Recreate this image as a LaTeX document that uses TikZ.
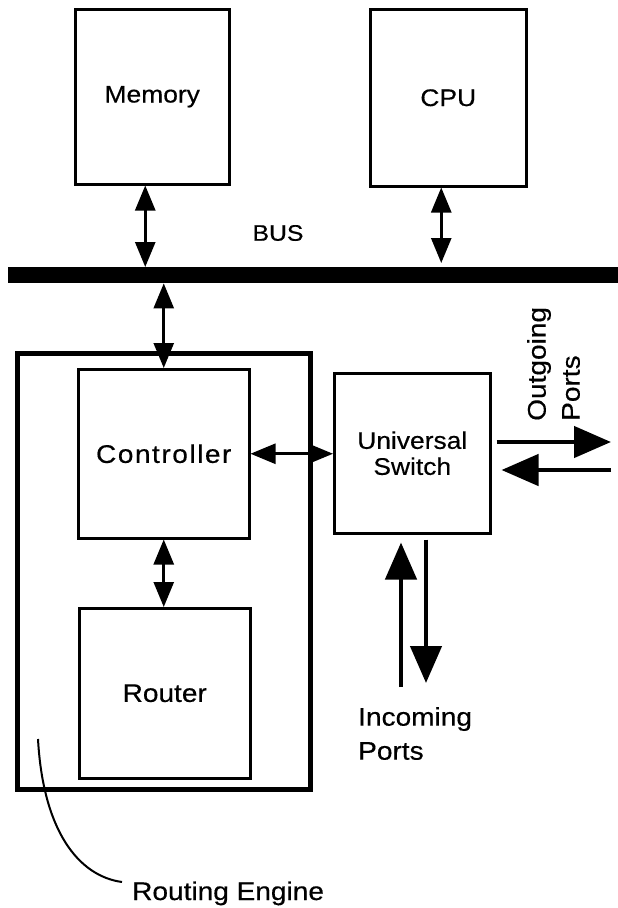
\documentclass[tikz,border=0pt]{standalone}
\usepackage{fontspec}
\setmainfont{Liberation Sans}[FakeStretch=1.1, FakeBold=0.4]
\usetikzlibrary{arrows.meta}
\begin{document}
\begin{tikzpicture}[x=1pt,y=-1pt,
  box/.style={draw, line width=2.5pt, rectangle, inner sep=0pt, anchor=north west},
  lbl/.style={font=\fontsize{24}{26}\selectfont},
  lblb/.style={font=\fontsize{25.5}{34}\selectfont},
  sarrow/.style={line width=2.6pt, {Triangle[length=25pt,width=20pt]}-{Triangle[length=25pt,width=20pt]}},
  barrow/.style={line width=4.5pt, -{Triangle[length=37pt,width=31pt]}},
]
\useasboundingbox (0,0) rectangle (618,908);
\fill[white] (0,0) rectangle (618,908);

% top boxes
\node[box, lbl, minimum width=154pt, minimum height=175pt] (mem) at (74,8) {Memory};
\node[box, lbl, minimum width=156pt, minimum height=177pt] (cpu) at (369,8) {CPU};
\node[font=\fontsize{22.5}{26}\selectfont] (bustxt) at (278,233) {BUS};

% bus
\node[fill=black, inner sep=0pt, minimum width=610pt, minimum height=16pt, anchor=north west] (bus) at (8,267) {};

% routing engine
\node[draw, line width=4.5pt, inner sep=0pt, minimum width=293pt, minimum height=436pt, anchor=north west] (re) at (15,351) {};
\node[box, font=\fontsize{25.5}{30}\selectfont\addfontfeature{LetterSpace=6}, minimum width=171pt, minimum height=169pt] (ctrl) at (77,368) {Controller};
\node[box, lblb, minimum width=171pt, minimum height=170pt] (rout) at (78,607) {Router};

% switch
\node[box, lbl, align=center, minimum width=156pt, minimum height=160pt] (sw) at (333,372) {Universal\\Switch};

% bus connections
\coordinate (ma) at ([xshift=-7pt]mem.south);
\draw[sarrow] (ma) -- (ma |- bus.north);
\coordinate (ca) at ([xshift=-7pt]cpu.south);
\draw[sarrow, shorten >=4pt] (ca) -- (ca |- bus.north);
\draw[sarrow] (bus.south -| ctrl.north) -- (ctrl.north);

% internal connections
\draw[sarrow] (ctrl.south) -- (ctrl.south |- rout.north);
\draw[sarrow] (ctrl.east) -- (ctrl.east -| sw.west);

% outgoing / incoming ports (right)
\coordinate (oute) at (611,442);
\draw[barrow, shorten <=5pt] (sw.east |- oute) -- (oute);
\coordinate (ins) at (611,470);
\draw[barrow, shorten >=10pt] (ins) -- (ins -| sw.east);

% incoming ports (bottom)
\coordinate (upb) at (401,687);
\draw[barrow, shorten >=8pt] (upb) -- (upb |- sw.south);
\coordinate (dnb) at (426,683);
\draw[barrow, shorten <=5pt] (dnb |- sw.south) -- (dnb);

% labels
\node[lblb, rotate=90, align=left, anchor=north west, inner sep=0pt] (outp) at (527,421) {Outgoing\\Ports};
\node[lblb, align=left, anchor=north west, inner sep=0pt] (inp) at (358,707) {Incoming\\Ports};
\node[lblb, anchor=base west, inner sep=0pt] (rl) at (132,900) {Routing Engine};

% routing engine pointer
\coordinate (rcs) at (38,739);
\coordinate (rce) at (122,882);
\draw[line width=2pt] (rcs) .. controls (43,830) and (78,876) .. (rce);
\end{tikzpicture}
\end{document}
